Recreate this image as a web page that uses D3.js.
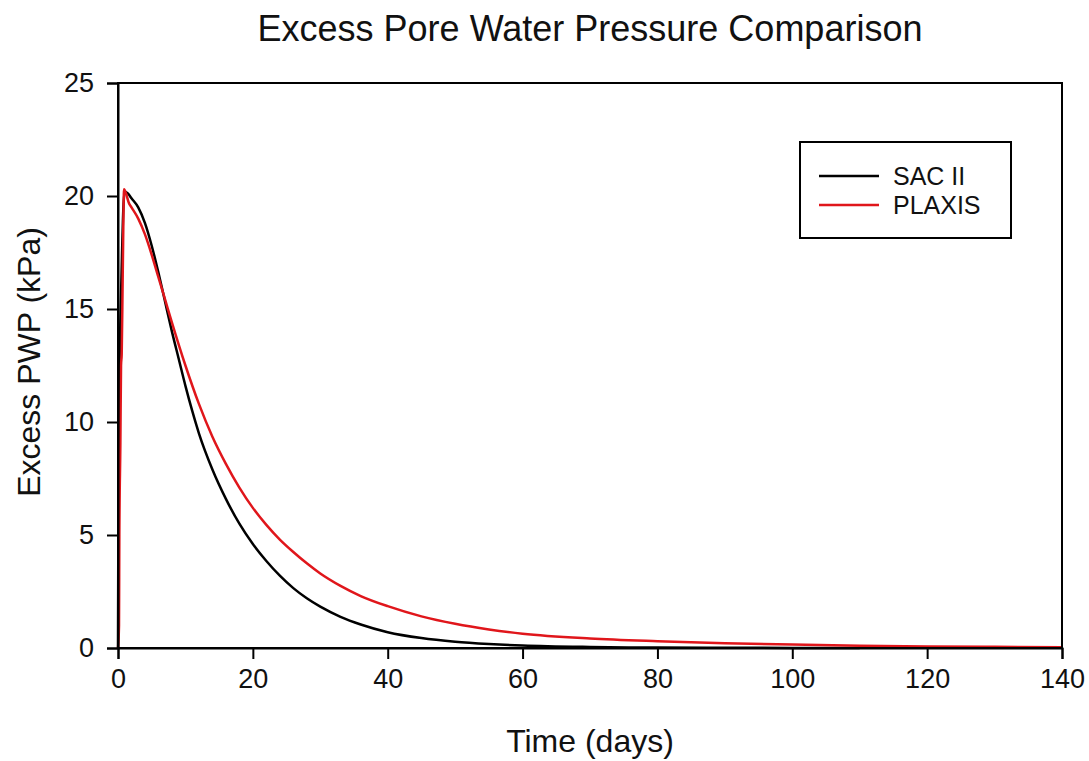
<!DOCTYPE html>
<html>
<head>
<meta charset="utf-8">
<script src="https://cdn.jsdelivr.net/npm/d3@7"></script>
<style>
  body { margin: 0; background: #fff; }
  text { font-family: Arial, "Liberation Sans", sans-serif; fill: #111; }
</style>
</head>
<body>
<div id="chart"></div>
<script>
// SAC II curve (time in days, excess PWP in kPa)
var sacTime = [0, 0.05, 0.1, 0.2, 0.4, 0.6, 0.8, 1.0, 1.5, 2, 3, 4, 5, 6, 7, 8, 9, 10, 11, 12, 14, 16, 18, 20, 22, 24, 26, 28, 30, 33, 36, 40, 45, 50, 55, 60, 70, 80, 90, 100, 110];
var sacPwp  = [0, 5, 9, 12, 15, 17.5, 19.5, 20.2, 20.1, 19.9, 19.5, 18.8, 17.8, 16.6, 15.3, 14.0, 12.8, 11.6, 10.5, 9.5, 7.9, 6.6, 5.5, 4.6, 3.85, 3.2, 2.65, 2.2, 1.83, 1.38, 1.04, 0.7, 0.44, 0.28, 0.18, 0.11, 0.045, 0.02, 0.01, 0.005, 0.003];

// PLAXIS curve
var plaxisTime = [0, 0.15, 0.2, 0.35, 0.45, 0.55, 0.7, 0.9, 1.2, 1.6, 2, 3, 4, 5, 6, 7, 8, 10, 12, 14, 16, 18, 20, 22, 24, 26, 28, 30, 33, 36, 40, 45, 50, 55, 60, 70, 80, 90, 100, 110, 120, 130, 140];
var plaxisPwp  = [0, 1, 5, 9, 12.5, 13, 16.5, 20.3, 20.1, 19.7, 19.5, 19.0, 18.3, 17.4, 16.4, 15.4, 14.4, 12.5, 10.8, 9.35, 8.15, 7.1, 6.2, 5.45, 4.8, 4.25, 3.75, 3.3, 2.75, 2.3, 1.85, 1.4, 1.07, 0.82, 0.63, 0.42, 0.3, 0.21, 0.15, 0.1, 0.07, 0.05, 0.035];

var xTicks = [0, 20, 40, 60, 80, 100, 120, 140];
var yTicks = [0, 5, 10, 15, 20, 25];
var seriesNames = ["SAC II", "PLAXIS"];
var seriesColors = ["#000000", "#e0161b"];

var width = 1089, height = 761;
var margin = { left: 118, right: 27, top: 83, bottom: 113 };

var svg = d3.select("#chart").append("svg")
  .attr("width", width).attr("height", height);

var x = d3.scaleLinear().domain([0, 140]).range([margin.left, width - margin.right]);
var y = d3.scaleLinear().domain([0, 25]).range([height - margin.bottom, margin.top]);

// title
svg.append("text")
  .attr("x", 590).attr("y", 41)
  .attr("text-anchor", "middle")
  .style("font-size", "36px")
  .text("Excess Pore Water Pressure Comparison");

// curves
var line = d3.line()
  .x(function(d) { return x(d[0]); })
  .y(function(d) { return y(d[1]); })
  .curve(d3.curveMonotoneX);

var sacData = sacTime.map(function(t, i) { return [t, sacPwp[i]]; });
var plaxisData = plaxisTime.map(function(t, i) { return [t, plaxisPwp[i]]; });

svg.append("path").datum(sacData)
  .attr("d", line).attr("fill", "none")
  .attr("stroke", seriesColors[0]).attr("stroke-width", 2.5);

svg.append("path").datum(plaxisData)
  .attr("d", line).attr("fill", "none")
  .attr("stroke", seriesColors[1]).attr("stroke-width", 2.5);

// frame
svg.append("rect")
  .attr("x", x(0)).attr("y", y(25))
  .attr("width", x(140) - x(0)).attr("height", y(0) - y(25))
  .attr("fill", "none").attr("stroke", "#000").attr("stroke-width", 2);

// axes
var xAxis = svg.append("g")
  .attr("transform", "translate(0," + y(0) + ")")
  .call(d3.axisBottom(x).tickValues(xTicks).tickSize(11).tickPadding(10));
var yAxis = svg.append("g")
  .attr("transform", "translate(" + x(0) + ",0)")
  .call(d3.axisLeft(y).tickValues(yTicks).tickSize(11).tickPadding(13));

[xAxis, yAxis].forEach(function(g) {
  g.select(".domain").attr("stroke", "#000").attr("stroke-width", 2);
  g.selectAll(".tick line").attr("stroke", "#000").attr("stroke-width", 2);
  g.selectAll(".tick text")
    .style("font-size", "27px")
    .style("font-family", "Arial, 'Liberation Sans', sans-serif")
    .attr("fill", "#111");
});

// axis titles
svg.append("text")
  .attr("x", 590).attr("y", 752)
  .attr("text-anchor", "middle")
  .style("font-size", "32px")
  .text("Time (days)");

svg.append("text")
  .attr("transform", "translate(40," + 362 + ") rotate(-90)")
  .attr("text-anchor", "middle")
  .style("font-size", "32px")
  .text("Excess PWP (kPa)");

// legend
var legend = svg.append("g").attr("transform", "translate(800,142)");
legend.append("rect")
  .attr("width", 211).attr("height", 96)
  .attr("fill", "#fff").attr("stroke", "#000").attr("stroke-width", 2);

seriesNames.forEach(function(name, i) {
  var ly = 34 + i * 29;
  legend.append("line")
    .attr("x1", 19).attr("x2", 79)
    .attr("y1", ly).attr("y2", ly)
    .attr("stroke", seriesColors[i]).attr("stroke-width", 2.5);
  legend.append("text")
    .attr("x", 93).attr("y", ly + 9)
    .style("font-size", "25px")
    .text(name);
});
</script>
</body>
</html>
